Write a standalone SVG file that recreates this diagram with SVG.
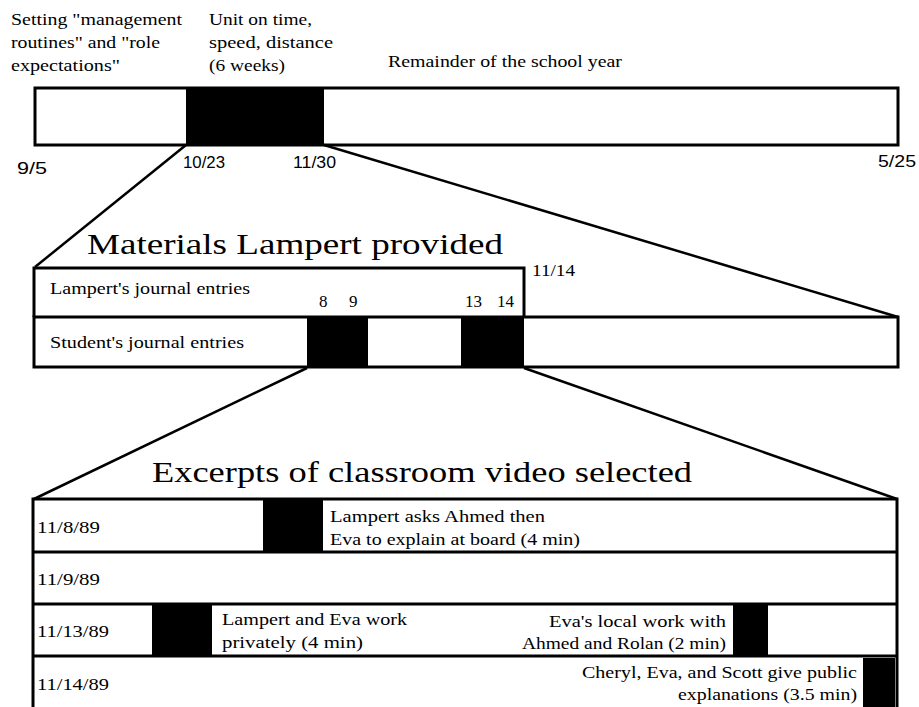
<svg xmlns="http://www.w3.org/2000/svg" width="919" height="707" viewBox="0 0 919 707">
  <style>
    .frame { fill: #fff; stroke: #000; stroke-width: 3; }
    .edge { fill: none; stroke: #000; stroke-width: 3; }
    .blk { fill: #000; stroke: none; }
    .zoom { fill: none; stroke: #000; stroke-width: 2.5; }
    .t { font-family: "Liberation Serif", "Times New Roman", serif; font-size: 17px; fill: #000; }
    .d { font-family: "Liberation Sans", Arial, sans-serif; font-size: 16px; fill: #000; }
    .h { font-family: "Liberation Serif", "Times New Roman", serif; font-size: 30px; fill: #000; }
  </style>
  <rect width="919" height="707" fill="#fff"/>

  <!-- whole school year -->
  <g id="year">
    <text class="t" x="11" y="25" textLength="171" lengthAdjust="spacingAndGlyphs">Setting "management</text>
    <text class="t" x="11" y="48" textLength="149" lengthAdjust="spacingAndGlyphs">routines" and "role</text>
    <text class="t" x="11" y="71" textLength="109" lengthAdjust="spacingAndGlyphs">expectations"</text>
    <text class="t" x="209" y="25" textLength="103" lengthAdjust="spacingAndGlyphs">Unit on time,</text>
    <text class="t" x="209" y="48" textLength="124" lengthAdjust="spacingAndGlyphs">speed, distance</text>
    <text class="t" x="209" y="71" textLength="76" lengthAdjust="spacingAndGlyphs">(6 weeks)</text>
    <text class="t" x="388" y="67" textLength="234" lengthAdjust="spacingAndGlyphs">Remainder of the school year</text>
    <rect class="frame" x="35" y="88" width="863" height="57"/>
    <rect class="blk" x="186" y="87" width="138" height="59"/>
    <text class="d" x="17" y="174" textLength="30" lengthAdjust="spacingAndGlyphs">9/5</text>
    <text class="d" x="183" y="168" textLength="42" lengthAdjust="spacingAndGlyphs">10/23</text>
    <text class="d" x="293" y="168" textLength="43" lengthAdjust="spacingAndGlyphs">11/30</text>
    <text class="d" x="878" y="167" textLength="38" lengthAdjust="spacingAndGlyphs">5/25</text>
  </g>

  <!-- journals for the unit -->
  <g id="materials">
    <text class="h" x="87" y="254" textLength="416" lengthAdjust="spacingAndGlyphs">Materials Lampert provided</text>
    <path class="edge" d="M34 317 V268 H524 V317"/>
    <rect class="frame" x="34" y="317" width="864" height="50"/>
    <rect class="blk" x="307" y="317" width="61" height="51"/>
    <rect class="blk" x="461" y="317" width="63" height="51"/>
    <text class="t" x="532" y="276" textLength="43" lengthAdjust="spacingAndGlyphs">11/14</text>
    <text class="t" x="50" y="294" textLength="200" lengthAdjust="spacingAndGlyphs">Lampert's journal entries</text>
    <text class="t" x="50" y="348" textLength="194" lengthAdjust="spacingAndGlyphs">Student's journal entries</text>
    <text class="t" x="319" y="307">8</text>
    <text class="t" x="349" y="307">9</text>
    <text class="t" x="465" y="307">13</text>
    <text class="t" x="497" y="307">14</text>
  </g>

  <!-- video excerpts by day -->
  <g id="excerpts">
    <text class="h" x="152" y="482" font-size="31" textLength="540" lengthAdjust="spacingAndGlyphs">Excerpts of classroom video selected</text>
    <path class="edge" d="M33 708 V499 H897 V708"/>
    <line class="edge" x1="33" y1="552" x2="897" y2="552"/>
    <line class="edge" x1="33" y1="604" x2="897" y2="604"/>
    <line class="edge" x1="33" y1="656" x2="897" y2="656"/>
  </g>

  <g id="row-11-8">
    <rect class="blk" x="263" y="499" width="60" height="53"/>
    <text class="t" x="37" y="533" textLength="63" lengthAdjust="spacingAndGlyphs">11/8/89</text>
    <text class="t" x="330" y="522" textLength="215" lengthAdjust="spacingAndGlyphs">Lampert asks Ahmed then</text>
    <text class="t" x="330" y="545" textLength="250" lengthAdjust="spacingAndGlyphs">Eva to explain at board (4 min)</text>
  </g>

  <g id="row-11-9">
    <text class="t" x="37" y="585" textLength="63" lengthAdjust="spacingAndGlyphs">11/9/89</text>
  </g>

  <g id="row-11-13">
    <rect class="blk" x="152" y="604" width="60" height="52"/>
    <rect class="blk" x="733" y="604" width="35" height="52"/>
    <text class="t" x="37" y="637" textLength="72" lengthAdjust="spacingAndGlyphs">11/13/89</text>
    <text class="t" x="222" y="625" textLength="185" lengthAdjust="spacingAndGlyphs">Lampert and Eva work</text>
    <text class="t" x="222" y="648" textLength="141" lengthAdjust="spacingAndGlyphs">privately (4 min)</text>
    <text class="t" x="726" y="627" text-anchor="end" textLength="177" lengthAdjust="spacingAndGlyphs">Eva's local work with</text>
    <text class="t" x="726" y="649" text-anchor="end" textLength="204" lengthAdjust="spacingAndGlyphs">Ahmed and Rolan (2 min)</text>
  </g>

  <g id="row-11-14">
    <rect class="blk" x="863" y="658" width="32" height="49"/>
    <text class="t" x="37" y="690" textLength="72" lengthAdjust="spacingAndGlyphs">11/14/89</text>
    <text class="t" x="857" y="678" text-anchor="end" textLength="275" lengthAdjust="spacingAndGlyphs">Cheryl, Eva, and Scott give public</text>
    <text class="t" x="857" y="700" text-anchor="end" textLength="179" lengthAdjust="spacingAndGlyphs">explanations (3.5 min)</text>
  </g>

  <!-- zoom-in lines between the levels -->
  <g id="connectors">
    <line class="zoom" x1="186" y1="145" x2="35" y2="267"/>
    <line class="zoom" x1="324" y1="145" x2="898" y2="317"/>
    <line class="zoom" x1="307" y1="368" x2="34" y2="499"/>
    <line class="zoom" x1="524" y1="368" x2="897" y2="499"/>
  </g>
</svg>
